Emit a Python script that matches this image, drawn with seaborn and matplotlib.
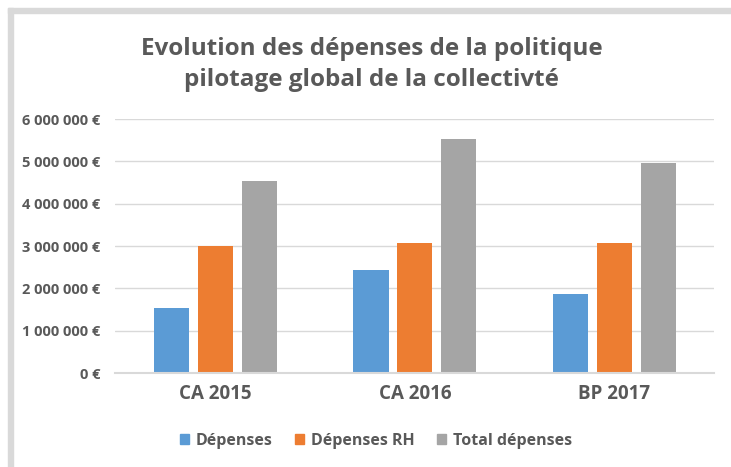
import pandas as pd
import seaborn as sns
import matplotlib.pyplot as plt
import matplotlib.patches as mpatches
from matplotlib.ticker import FuncFormatter

# données
categories = ['CA 2015', 'CA 2016', 'BP 2017']
series = ['Dépenses', 'Dépenses RH', 'Total dépenses']
depenses = [1540000, 2430000, 1870000]
depenses_rh = [3000000, 3070000, 3070000]
total_depenses = [4540000, 5520000, 4970000]
couleurs = ['#5B9BD5', '#ED7D31', '#A5A5A5']

df = pd.DataFrame({
    'Categorie': categories * 3,
    'Serie': [series[0]] * 3 + [series[1]] * 3 + [series[2]] * 3,
    'Montant': depenses + depenses_rh + total_depenses,
})

sns.set_style('white')
plt.rcParams['font.family'] = ['Open Sans', 'DejaVu Sans']
texte = '#595959'

fig = plt.figure(figsize=(7.31, 4.67), dpi=100)
ax = fig.add_axes([0.158, 0.201, 0.819, 0.544])

sns.barplot(data=df, x='Categorie', y='Montant', hue='Serie', hue_order=series,
            palette=couleurs, width=0.66, gap=0.2, ax=ax, legend=False,
            saturation=1, edgecolor='none')

ax.set_ylim(0, 6000000)
ax.set_yticks(range(0, 6000001, 1000000))
ax.yaxis.set_major_formatter(FuncFormatter(lambda v, p: f"{int(v):,} €".replace(',', ' ')))
ax.grid(axis='y', color='#d9d9d9', linewidth=1)
ax.set_axisbelow(True)
for s in ['top', 'right', 'left']:
    ax.spines[s].set_visible(False)
ax.spines['bottom'].set_color('#d9d9d9')
ax.spines['bottom'].set_linewidth(1.5)
ax.tick_params(axis='y', length=0, pad=11, labelsize=10.5, labelcolor=texte)
ax.tick_params(axis='x', length=0, pad=8, labelsize=13.5, labelcolor=texte)
for lab in ax.get_yticklabels() + ax.get_xticklabels():
    lab.set_fontweight('bold')
ax.set_xlabel('')
ax.set_ylabel('')

# titre
fig.text(0.508, 0.862, "Evolution des dépenses de la politique\npilotage global de la collectivté",
         ha='center', va='center', fontsize=17.5, fontweight='bold', color=texte, linespacing=1.38)

# légende en bas
handles = [mpatches.Patch(color=c, label=s) for c, s in zip(couleurs, series)]
fig.legend(handles=handles, loc='center', bbox_to_anchor=(0.514, 0.056), ncol=3, frameon=False,
           prop={'weight': 'bold', 'size': 11.5}, labelcolor=texte, handlelength=0.6,
           handleheight=0.6, handletextpad=0.4, columnspacing=1.4)

# bordure grise du cadre (gauche et haut)
fig.patches.append(mpatches.Rectangle((8 / 731, 0), 5 / 731, 1 - 8 / 467, transform=fig.transFigure,
                                      color='#d9d9d9', zorder=0))
fig.patches.append(mpatches.Rectangle((8 / 731, 1 - 13 / 467), 1, 5 / 467, transform=fig.transFigure,
                                      color='#d9d9d9', zorder=0))

plt.savefig('out.png', dpi=100)
plt.close()
